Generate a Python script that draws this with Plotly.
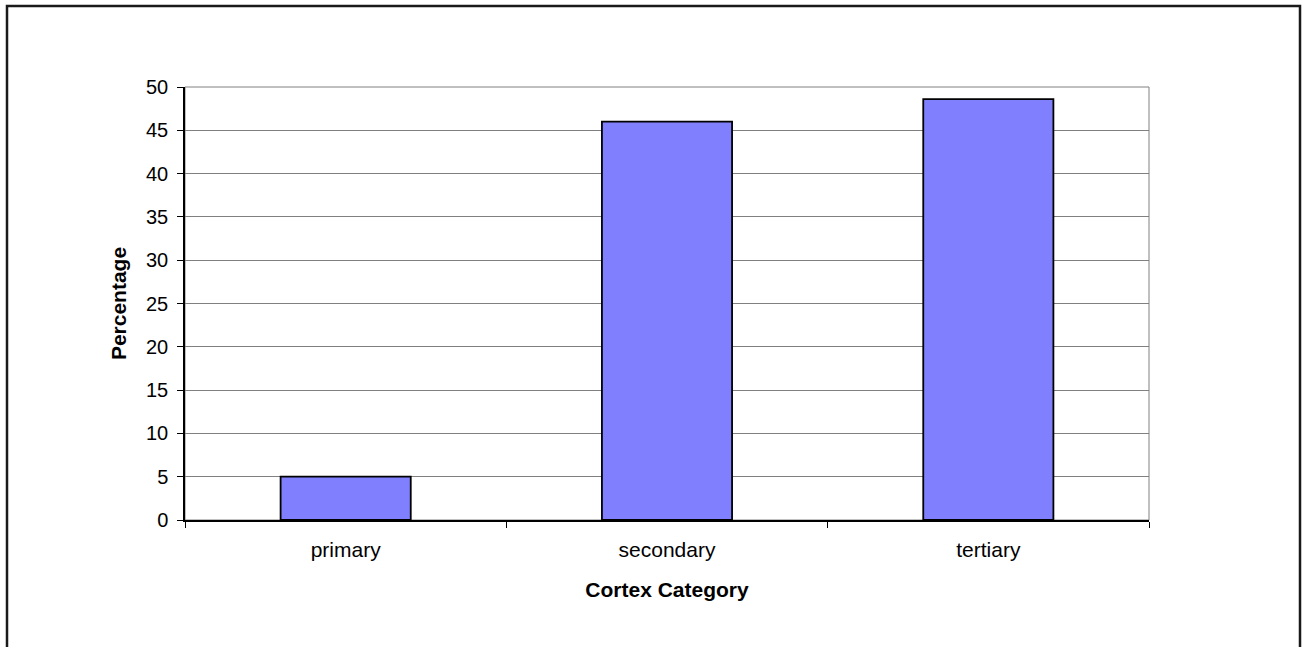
import plotly.graph_objects as go

# Share of items by cortex category
categories = ["primary", "secondary", "tertiary"]
percentages = [5.0, 46.0, 48.6]

W, H = 1303, 647
L, R, T, B = 185, 154, 87, 127
pw, ph = W - L - R, H - T - B

def px_x(x):
    return (x - L) / pw

def px_y(y):
    return (H - B - y) / ph

font_family = "Liberation Sans, Arial, sans-serif"

fig = go.Figure(
    go.Bar(
        x=categories,
        y=percentages,
        marker=dict(color="#8080FF", line=dict(color="#000000", width=1.8)),
        width=0.405,
    )
)

fig.update_layout(
    width=W,
    height=H,
    margin=dict(l=L, r=R, t=T, b=B),
    paper_bgcolor="white",
    plot_bgcolor="white",
    showlegend=False,
    font=dict(family=font_family, size=21, color="#000000"),
    shapes=[
        # plot-area frame (gray)
        dict(type="rect", xref="paper", yref="paper", x0=0, y0=0, x1=1, y1=1,
             line=dict(color="#808080", width=1), layer="below"),
        # chart-area border
        dict(type="rect", xref="paper", yref="paper",
             x0=px_x(7), x1=px_x(1300), y0=px_y(700), y1=px_y(6),
             line=dict(color="#1a1a1a", width=2.5)),
    ],
)

fig.update_xaxes(
    type="category",
    showline=True, linecolor="#000000", linewidth=1.5,
    ticks="outside", tickson="boundaries", ticklen=6, tickcolor="#000000", tickwidth=1,
    showgrid=False,
    tickfont=dict(size=21),
    ticklabelstandoff=10,
    title=dict(text="<b>Cortex Category</b>", font=dict(size=21), standoff=22),
)

fig.update_yaxes(
    range=[0, 50], dtick=5, tick0=0,
    showline=True, linecolor="#000000", linewidth=1.5,
    ticks="outside", ticklen=6, tickcolor="#000000", tickwidth=1,
    showgrid=True, gridcolor="#808080", gridwidth=1,
    zeroline=False,
    tickfont=dict(size=20),
    ticklabelstandoff=5,
    title=dict(text="<b>Percentage</b>", font=dict(size=21), standoff=14),
)

fig.write_html("out.html")
